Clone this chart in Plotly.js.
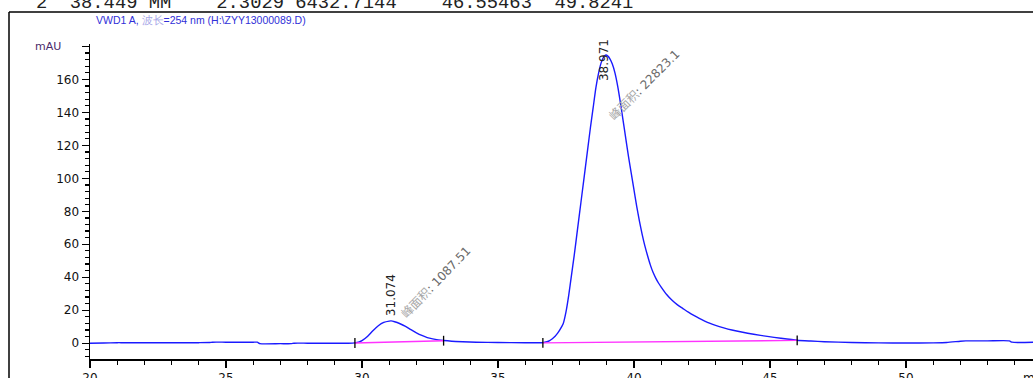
<!DOCTYPE html>
<html><head><meta charset="utf-8">
<script src="https://cdn.plot.ly/plotly-3.0.1.min.js"></script>
<style>html,body{margin:0;padding:0;background:#fff;overflow:hidden}#chart{width:1033px;height:378px;}</style>
</head><body><div id="chart"></div>
<script>
// Chromatogram signal (minutes, mAU)
const time = [20, 20.5, 21, 21.2, 22, 23, 24, 24.4, 24.5, 25, 26, 26.15, 26.25, 27, 27.4, 27.5, 28, 29, 29.5,
  29.74, 29.9, 30.0, 30.2, 30.4, 30.6, 30.8, 31.0, 31.07, 31.2, 31.4, 31.6, 31.8, 32.0, 32.2, 32.4, 32.6, 32.8, 33.0,
  33.3, 33.7, 34.2, 35, 36, 36.5, 36.65, 36.8, 36.9, 37.0, 37.1, 37.2, 37.3, 37.4, 37.5, 37.6, 37.7, 37.8, 37.9,
  38.0, 38.1, 38.2, 38.3, 38.4, 38.5, 38.6, 38.7, 38.8, 38.9, 38.97, 39.05, 39.1, 39.2, 39.3, 39.4, 39.5, 39.6,
  39.7, 39.8, 39.9, 40.0, 40.1, 40.2, 40.3, 40.4, 40.5, 40.6, 40.7, 40.8, 40.9, 41.0, 41.2, 41.4, 41.6, 41.8,
  42.0, 42.2, 42.4, 42.6, 42.8, 43.0, 43.3, 43.6, 44.0, 44.4, 44.9, 45.4, 46.0, 46.5, 47.0, 48.0, 49.0, 50.0,
  51.0, 51.5, 52.0, 52.2, 53.0, 53.8, 53.9, 54.7];
const absorbance = [0.0, 0.1, 0.3, 0.3, 0.3, 0.3, 0.3, 0.4, 0.6, 0.6, 0.6, 0.6, -0.3, -0.3, -0.3, 0.0, 0.0, 0.0, 0.0,
  0.2, 0.8, 1.5, 4.0, 7.5, 10.6, 12.6, 13.4, 13.5, 13.0, 11.8, 10.2, 8.2, 6.3, 4.7, 3.4, 2.6, 2.0, 1.6,
  1.2, 0.9, 0.6, 0.4, 0.3, 0.3, 0.3, 0.9, 1.6, 2.7, 4.2, 6.2, 8.8, 12, 19, 29, 41, 53, 66,
  79, 92, 105, 118, 131, 143, 155, 164, 170.5, 174, 174.8, 174, 173, 169.5, 164, 156, 146, 135,
  124, 113, 103, 93, 83, 74, 66, 59, 53, 47.5, 43, 39.5, 36.5, 34, 29.5, 26, 23.2, 21,
  18.8, 16.8, 15, 13.4, 12, 10.8, 9.3, 8, 6.6, 5.4, 4.1, 3, 1.8, 1.3, 0.9, 0.4, 0.2, 0.1,
  0.2, 0.4, 1.2, 1.4, 1.4, 1.4, 0.6, 0.6];

// Integrated peaks
const peakRT = [31.074, 38.971];
const peakApex = [13.5, 174.8];
const peakArea = ['1087.51', '22823.1'];
const peakStart = [29.74, 36.65];
const peakStartSignal = [0.1, 0.2];
const peakEnd = [33.0, 46.0];
const peakEndSignal = [1.5, 1.7];

// Axis ticks
const yTickVals = [0, 20, 40, 60, 80, 100, 120, 140, 160, 180];
const yTickText = ['0', '20', '40', '60', '80', '100', '120', '140', '160', ''];
const xTickVals = [20, 25, 30, 35, 40, 45, 50];
const xTickText = ['20', '25', '30', '35', '40', '45', '50'];

// Texts
const headerText = '2  38.449 MM    2.3029 6432.7144    46.55463  49.8241';
const signalName = 'VWD1 A, ';
const signalWave = '波长';
const signalRest = '=254 nm (H:\\ZYY13000089.D)';
const yUnit = 'mAU';
const xUnit = 'min';
const areaLabel = '峰面积';

const traces = [{
  x: time, y: absorbance, type: 'scatter', mode: 'lines',
  line: {color: '#1a1aff', width: 1.4, shape: 'spline', smoothing: 0.6}, hoverinfo: 'skip'
}];
for (let i = 0; i < peakRT.length; i++) {
  traces.push({
    x: [peakStart[i], peakEnd[i]], y: [peakStartSignal[i], peakEndSignal[i]],
    type: 'scatter', mode: 'lines', line: {color: '#ff33ff', width: 1.4}, hoverinfo: 'skip'
  });
}
traces.push({
  x: peakStart.concat(peakEnd), y: peakStartSignal.concat(peakEndSignal),
  type: 'scatter', mode: 'markers',
  marker: {symbol: 'line-ns', size: 7, line: {color: '#000', width: 1.3}}, hoverinfo: 'skip'
});

const annotations = [];
const rtShift = [4, -27];
const rtXShift = [0, -2];
const areaXShift = [6, -1];
const areaYShift = [-1, -70];
const areaAngle = [-46, -45];
for (let i = 0; i < peakRT.length; i++) {
  annotations.push({
    x: peakRT[i], y: peakApex[i], xref: 'x', yref: 'y', showarrow: false,
    text: peakRT[i].toFixed(3), textangle: -90, xanchor: 'center', yanchor: 'bottom',
    xshift: rtXShift[i], yshift: rtShift[i], borderpad: 0,
    font: {family: 'DejaVu Sans', size: 12, color: '#222'}
  });
  annotations.push({
    x: peakRT[i], y: peakApex[i], xref: 'x', yref: 'y', showarrow: false,
    text: '<span style="color:#a8a8a8">' + areaLabel + '</span>: ' + peakArea[i],
    textangle: areaAngle[i], xanchor: 'left', yanchor: 'bottom',
    xshift: areaXShift[i], yshift: areaYShift[i], borderpad: 0,
    font: {family: 'DejaVu Sans, Noto Sans CJK SC', size: 12, color: '#6a6a6a'}
  });
}
annotations.push({
  x: 0, xref: 'paper', y: 180, yref: 'y', xanchor: 'right', yanchor: 'middle', xshift: -27,
  showarrow: false, text: yUnit, font: {family: 'DejaVu Sans', size: 11, color: '#4a2a6a'}
});
annotations.push({
  x: 1, xref: 'paper', y: 0, yref: 'paper', xanchor: 'left', yanchor: 'top', xshift: -12, yshift: -10,
  showarrow: false, text: xUnit, font: {family: 'DejaVu Sans', size: 12, color: '#111'}
});
annotations.push({
  x: 0, xref: 'paper', y: 1, yref: 'paper', xanchor: 'left', yanchor: 'middle', xshift: -56, yshift: 41.5,
  showarrow: false, text: headerText.replace(/ /g, '&nbsp;'),
  font: {family: 'Liberation Mono', size: 18.8, color: '#222'}
});

const layout = {
  width: 1033, height: 378,
  margin: {l: 90, r: 0, t: 44, b: 19, pad: 0},
  paper_bgcolor: '#fff', plot_bgcolor: '#fff',
  showlegend: false,
  title: {
    text: signalName + '<span style="color:#a8a8e8">' + signalWave + '</span>' + signalRest,
    x: 96 / 1033, xref: 'container', xanchor: 'left',
    y: 1 - 20 / 378, yref: 'container', yanchor: 'middle',
    font: {family: 'Liberation Sans, Arial', size: 10.5, color: '#3030d8'}
  },
  xaxis: {
    range: [20, 54.67], tickmode: 'array', tickvals: xTickVals, ticktext: xTickText,
    showline: true, linecolor: '#000', linewidth: 1.5, ticks: 'outside', ticklen: 7, tickwidth: 1.2, tickcolor: '#000',
    minor: {dtick: 1, tick0: 20, ticks: 'outside', ticklen: 4, tickwidth: 1.2, tickcolor: '#000'},
    showgrid: false, zeroline: false, mirror: false,
    tickfont: {family: 'DejaVu Sans', size: 12, color: '#111'}
  },
  yaxis: {
    range: [-9.6, 181.5], tickmode: 'array', tickvals: yTickVals, ticktext: yTickText,
    showline: true, linecolor: '#000', linewidth: 1.5, ticks: 'outside', ticklen: 7, tickwidth: 1.2, tickcolor: '#000',
    minor: {dtick: 4, tick0: 0, ticks: 'outside', ticklen: 4, tickwidth: 1.2, tickcolor: '#000'},
    showgrid: false, zeroline: false,
    tickfont: {family: 'DejaVu Sans', size: 12, color: '#111'}
  },
  shapes: [
    {type: 'line', xref: 'paper', yref: 'paper', x0: (9 - 90) / 943, x1: (9 - 90) / 943, y0: -0.1, y1: 1 + 32 / 315,
     line: {color: '#000', width: 1.5}},
    {type: 'line', xref: 'paper', yref: 'paper', x0: (9 - 90) / 943, x1: 1.05, y0: 1 + 32 / 315, y1: 1 + 32 / 315,
     line: {color: '#000', width: 1.5}}
  ],
  annotations: annotations
};
Plotly.newPlot('chart', traces, layout, {displayModeBar: false, staticPlot: true});
</script></body></html>
